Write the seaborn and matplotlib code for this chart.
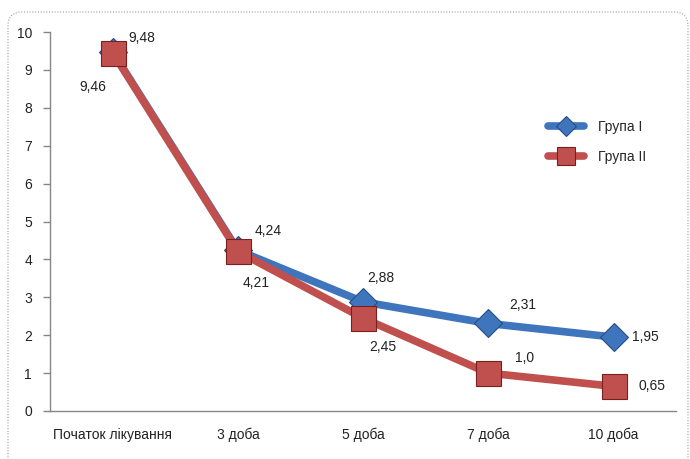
import matplotlib
matplotlib.use('Agg')
import matplotlib.pyplot as plt
import matplotlib.patches as mpatches
from matplotlib.transforms import IdentityTransform
import pandas as pd
import seaborn as sns

# Data
days = ['Початок лікування', '3 доба', '5 доба', '7 доба', '10 доба']
group_1 = [9.48, 4.24, 2.88, 2.31, 1.95]
group_2 = [9.46, 4.21, 2.45, 1.0, 0.65]
labels_1 = ['9,48', '4,24', '2,88', '2,31', '1,95']
labels_2 = ['9,46', '4,21', '2,45', '1,0', '0,65']
series_names = ['Група I', 'Група II']

# label offsets in points (dx, dy) to place each value label like the original
offsets_1 = [(21, 10), (22, 14), (13, 17), (25, 13), (23, 0)]
offsets_2 = [(-14, -25), (13, -23), (14, -21), (26, 11), (28, 0)]

sns.set_theme(style='white')
plt.rcParams['font.family'] = ['Liberation Sans', 'DejaVu Sans']

df = pd.DataFrame({
    'day': days * 2,
    'value': group_1 + group_2,
    'group': [series_names[0]] * len(days) + [series_names[1]] * len(days),
})

fig = plt.figure(figsize=(6.9, 4.59), dpi=100)
ax = fig.add_axes([0.0725, 0.1046, 0.9075, 0.8256])

blue = '#3E75BD'
red = '#C0504D'

sns.lineplot(data=df, x='day', y='value', hue='group', style='group',
             markers={'Група I': 'D', 'Група II': 's'}, dashes=False,
             palette={'Група I': blue, 'Група II': red},
             linewidth=5.5, markersize=18, sort=False, ax=ax,
             markeredgecolor='#7a1f1d', markeredgewidth=0.8)

for line in ax.lines:
    if line.get_color() == blue:
        line.set_markeredgecolor('#274f86')
        line.set_markersize(14)
    line.set_solid_capstyle('round')
    line.set_solid_joinstyle('round')

for i, (v, t) in enumerate(zip(group_1, labels_1)):
    ax.annotate(t, (i, v), xytext=offsets_1[i], textcoords='offset points',
                ha='center', va='center', fontsize=10, color='#222222')
for i, (v, t) in enumerate(zip(group_2, labels_2)):
    ax.annotate(t, (i, v), xytext=offsets_2[i], textcoords='offset points',
                ha='center', va='center', fontsize=10, color='#222222')

ax.set_xlim(-0.5, len(days) - 0.5)
ax.set_ylim(0, 10)
ax.set_yticks(range(0, 11))
ax.set_xticks(range(len(days)))
ax.set_xticks([i - 0.5 for i in range(len(days) + 1)], minor=True)
ax.tick_params(axis='x', which='major', length=0, pad=12, labelsize=10, colors='#222222')
ax.tick_params(axis='x', which='minor', length=5, width=1, color='#868686', direction='out')
ax.tick_params(axis='y', length=5, width=1, color='#868686', direction='out', pad=8,
               labelsize=10, labelcolor='#222222', left=True)
ax.set_xlabel('')
ax.set_ylabel('')
sns.despine(ax=ax)
for s in ['left', 'bottom']:
    ax.spines[s].set_color('#868686')
    ax.spines[s].set_linewidth(1)

leg = ax.legend(loc='center left', bbox_to_anchor=(0.775, 0.71), frameon=False,
                fontsize=10, handlelength=2.6, labelspacing=1.1, handletextpad=1.0,
                markerscale=0.75)

# dotted rounded frame
frame = mpatches.FancyBboxPatch((8, -40), 680, 487,
                                boxstyle='round,pad=0,rounding_size=14',
                                transform=IdentityTransform(), fill=False,
                                edgecolor='#9a9a9a', linestyle=(0, (1, 1.5)), linewidth=0.8)
fig.patches.append(frame)

fig.savefig('out.png', dpi=100)
